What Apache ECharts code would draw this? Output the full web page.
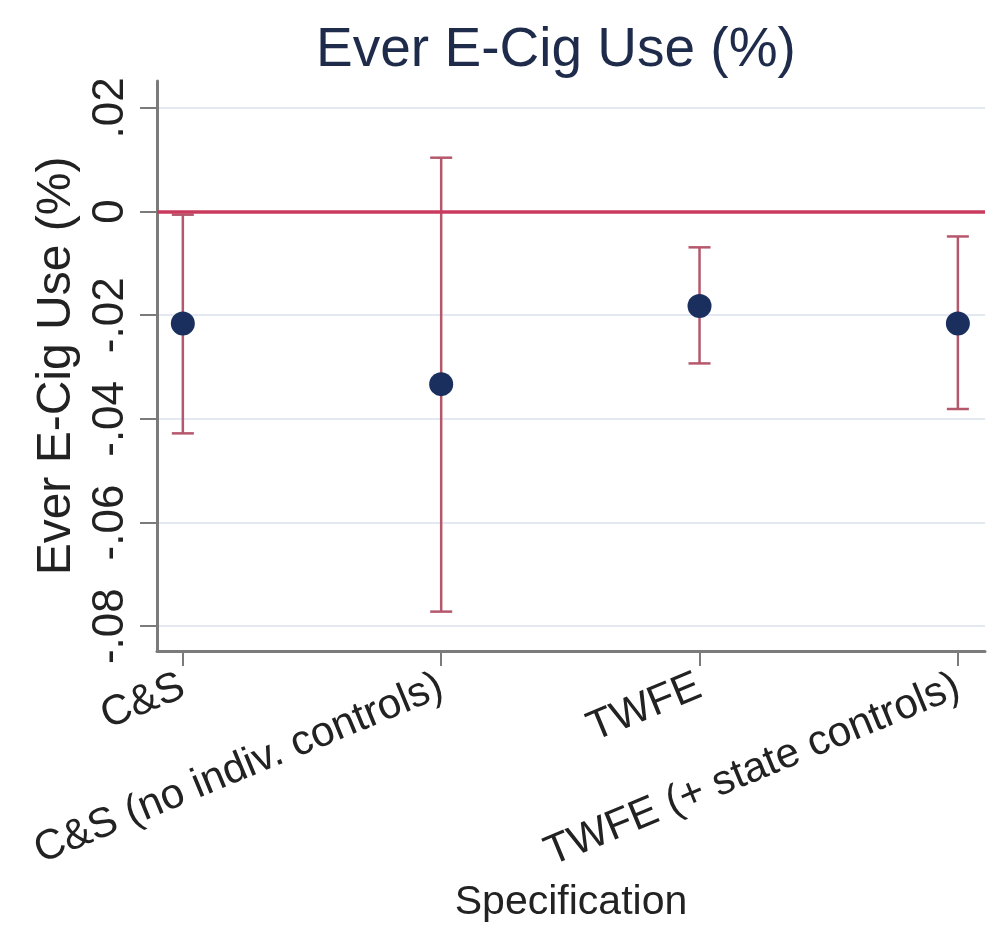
<!DOCTYPE html>
<html><head><meta charset="utf-8">
<script src="https://cdn.jsdelivr.net/npm/echarts@6/dist/echarts.min.js"></script>
<style>html,body{margin:0;padding:0;background:#fff}#c{width:1000px;height:937px}</style>
</head><body><div id="c"></div>
<script>
const categories = ["C&S", "C&S (no indiv. controls)", "TWFE", "TWFE (+ state controls)"];
const estimates = [-0.0216, -0.0333, -0.0182, -0.0216];
const ciLower = [-0.0428, -0.0772, -0.0293, -0.0381];
const ciUpper = [-0.0006, 0.0104, -0.0069, -0.0048];
const yTicks = [-0.08, -0.06, -0.04, -0.02, 0, 0.02];
const xTicks = [1, 2, 3, 4];

function fmtY(v){
  if (Math.abs(v) < 1e-9) return "0";
  let s = (Math.round(v*100)/100).toString();
  return s.replace("0.", ".");
}

const chart = echarts.init(document.getElementById('c'));
const font = '"Liberation Sans", Arial, sans-serif';
chart.setOption({
  backgroundColor: '#fff',
  animation: false,
  title: {
    text: 'Ever E-Cig Use (%)', left: 551, top: 18, textAlign: 'center',
    textStyle: {fontFamily: font, fontSize: 55, fontWeight: 'normal', color: '#1e2b4a'}
  },
  grid: {left: 157, right: 15, top: 81, bottom: 286, containLabel: false, outerBoundsMode: 'none'},
  xAxis: {
    type: 'value', min: 0.9, max: 4.105,
    name: 'Specification', nameLocation: 'middle', nameGap: 231,
    nameTextStyle: {fontFamily: font, fontSize: 41, color: '#222'},
    axisLine: {show: true, onZero: false, lineStyle: {color: '#7b7b7b', width: 3}},
    axisTick: {show: true, length: 15, customValues: xTicks, lineStyle: {color: '#7b7b7b', width: 2}},
    axisLabel: {
      customValues: xTicks, rotate: 22.5, margin: 34,
      fontFamily: font, fontSize: 42, color: '#222',
      formatter: v => categories[Math.round(v) - 1] || ''
    },
    splitLine: {show: false}
  },
  yAxis: {
    type: 'value', min: -0.0848, max: 0.0252,
    name: 'Ever E-Cig Use (%)', nameLocation: 'middle', nameGap: 64, nameRotate: 90,
    nameTextStyle: {fontFamily: font, fontSize: 48, color: '#222'},
    axisLine: {show: true, lineStyle: {color: '#7b7b7b', width: 3}},
    axisTick: {show: true, length: 17, customValues: yTicks, lineStyle: {color: '#7b7b7b', width: 2}},
    axisLabel: {
      customValues: yTicks, rotate: 90, margin: 24,
      fontFamily: font, fontSize: 44, color: '#222',
      formatter: fmtY
    },
    splitLine: {show: true, lineStyle: {color: '#e4e8f0', width: 2}}
  },
  series: [
    {
      type: 'line', data: [], z: 1,
      markLine: {
        silent: true, symbol: 'none', label: {show: false},
        lineStyle: {color: '#c93a5e', width: 3.5, type: 'solid'},
        data: [{yAxis: 0}]
      }
    },
    {
      type: 'custom', z: 3,
      data: categories.map((c, i) => [i + 1, ciLower[i], ciUpper[i]]),
      renderItem: function(params, api){
        const x = api.value(0);
        const lo = api.coord([x, api.value(1)]);
        const hi = api.coord([x, api.value(2)]);
        const hw = 11;
        const st = {stroke: '#b5586c', lineWidth: 2.5};
        return {type: 'group', children: [
          {type: 'line', shape: {x1: lo[0], y1: lo[1], x2: hi[0], y2: hi[1]}, style: st},
          {type: 'line', shape: {x1: lo[0]-hw, y1: lo[1], x2: lo[0]+hw, y2: lo[1]}, style: st},
          {type: 'line', shape: {x1: hi[0]-hw, y1: hi[1], x2: hi[0]+hw, y2: hi[1]}, style: st}
        ]};
      }
    },
    {
      type: 'scatter', z: 4, symbol: 'circle', symbolSize: 24,
      itemStyle: {color: '#1b2f5e', opacity: 1},
      data: categories.map((c, i) => [i + 1, estimates[i]])
    }
  ]
});
</script></body></html>
